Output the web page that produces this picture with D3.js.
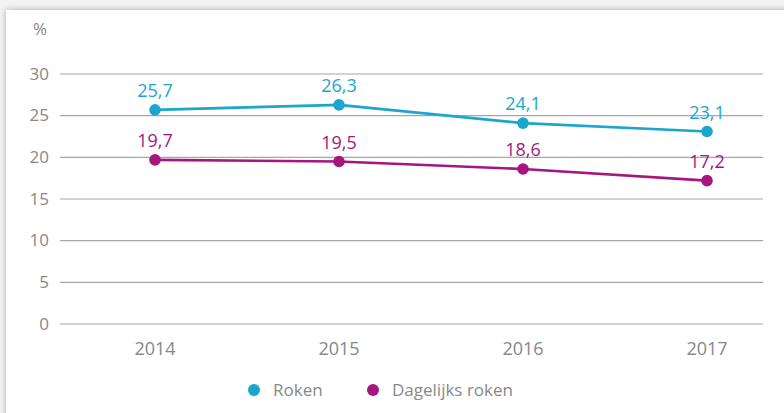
<!DOCTYPE html>
<html>
<head>
<meta charset="utf-8">
<script src="https://cdn.jsdelivr.net/npm/d3@7"></script>
<style>
  html, body { margin: 0; padding: 0; }
  body { width: 784px; height: 413px; background: #f2f2f2; overflow: hidden; position: relative; font-family: "Open Sans", sans-serif; }
  #card { position: absolute; left: 6px; top: 10px; width: 800px; height: 420px; background: #fff; box-shadow: 0 0 6px rgba(0,0,0,0.28); }
  svg { position: absolute; left: 0; top: 0; }
</style>
</head>
<body>
<div id="card"></div>
<div id="chart"></div>
<script>
// data
const years = ["2014", "2015", "2016", "2017"];
const roken = [25.7, 26.3, 24.1, 23.1];
const dagelijks = [19.7, 19.5, 18.6, 17.2];
const yTicks = [0, 5, 10, 15, 20, 25, 30];
const seriesNames = ["Roken", "Dagelijks roken"];
const colors = ["#1ba6cd", "#a5177f"];

const width = 784, height = 413;
const grey = "#888888";

const svg = d3.select("#chart").append("svg")
  .attr("width", width)
  .attr("height", height);

const x = d3.scalePoint().domain(years).range([155, 707]);
const y = d3.scaleLinear().domain([0, 30]).range([324, 74]);

// gridlines
svg.append("g").selectAll("line")
  .data(yTicks)
  .enter().append("line")
  .attr("x1", 60).attr("x2", 763)
  .attr("y1", d => y(d)).attr("y2", d => y(d))
  .attr("stroke", "#a6a6a6")
  .attr("stroke-width", 1.2);

// y labels
svg.append("g").selectAll("text")
  .data(yTicks)
  .enter().append("text")
  .attr("x", 49)
  .attr("y", d => y(d))
  .attr("dy", "0.34em")
  .attr("text-anchor", "end")
  .attr("font-size", 17)
  .attr("fill", grey)
  .text(d => d);

svg.append("text")
  .attr("x", 40).attr("y", 35)
  .attr("text-anchor", "middle")
  .attr("font-size", 17)
  .attr("fill", grey)
  .text("%");

// x labels
svg.append("g").selectAll("text")
  .data(years)
  .enter().append("text")
  .attr("x", d => x(d))
  .attr("y", 355)
  .attr("text-anchor", "middle")
  .attr("font-size", 18)
  .attr("fill", grey)
  .text(d => d);

const line = d3.line()
  .x((d, i) => x(years[i]))
  .y(d => y(d));

const fmt = v => d3.format(".1f")(v).replace(".", ",");

[roken, dagelijks].forEach((vals, k) => {
  const g = svg.append("g");
  g.append("path")
    .attr("d", line(vals))
    .attr("fill", "none")
    .attr("stroke", colors[k])
    .attr("stroke-width", 2.6);
  g.selectAll("circle")
    .data(vals)
    .enter().append("circle")
    .attr("cx", (d, i) => x(years[i]))
    .attr("cy", d => y(d))
    .attr("r", 5.8)
    .attr("fill", colors[k]);
  g.selectAll("text")
    .data(vals)
    .enter().append("text")
    .attr("x", (d, i) => x(years[i]))
    .attr("y", d => y(d) - 13)
    .attr("text-anchor", "middle")
    .attr("font-size", 18)
    .attr("fill", colors[k])
    .text(d => fmt(d));
});

// legend
const legendX = [254, 373];
const legend = svg.append("g").selectAll("g")
  .data(seriesNames)
  .enter().append("g")
  .attr("transform", (d, i) => `translate(${legendX[i]}, 390)`);
legend.append("circle")
  .attr("r", 6)
  .attr("fill", (d, i) => colors[i]);
legend.append("text")
  .attr("x", 19)
  .attr("dy", "0.35em")
  .attr("font-size", 17)
  .attr("fill", grey)
  .text(d => d);
</script>
</body>
</html>
